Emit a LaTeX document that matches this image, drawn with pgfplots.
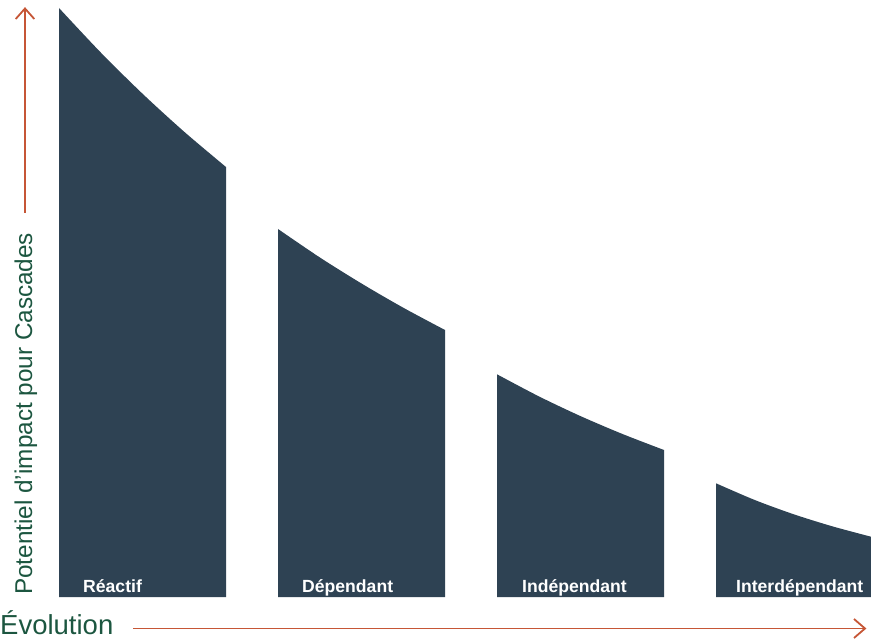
\documentclass[border=0pt]{standalone}
\usepackage{pgfplots}
\pgfplotsset{compat=1.18}
\usepackage{fontspec}
\setmainfont{Liberation Sans}
\definecolor{darkfill}{RGB}{46,66,83}
\definecolor{txtgreen}{RGB}{28,86,64}
\definecolor{arrowc}{RGB}{198,86,54}
\begin{document}
\begin{tikzpicture}
\begin{axis}[
  width=871pt, height=641pt, scale only axis,
  xmin=0, xmax=871, ymin=-44, ymax=597,
  hide axis, clip=false,
]
\path (0,-44) rectangle (871,597);
% Réactif
\addplot[fill=darkfill, draw=none, smooth] coordinates {
 (59,589) (100.75,544.5) (142.5,503.3) (184.25,465.2) (226,430)} \closedcycle;
% Dépendant
\addplot[fill=darkfill, draw=none, smooth] coordinates {
 (278,368) (319.75,339.6) (361.5,313.5) (403.25,289.3) (445,267)} \closedcycle;
% Indépendant
\addplot[fill=darkfill, draw=none, smooth] coordinates {
 (497,222.7) (538.75,200.7) (580.5,180.9) (622.25,163.1) (664,147)} \closedcycle;
% Interdépendant
\addplot[fill=darkfill, draw=none, smooth] coordinates {
 (716,113.7) (754.75,97.0) (793.5,82.8) (832.25,70.7) (871,60.3)} \closedcycle;

\node[anchor=base west, inner sep=0, text=white, font=\fontsize{17.6}{20}\selectfont\bfseries] at (83,5) {Réactif};
\node[anchor=base west, inner sep=0, text=white, font=\fontsize{17.6}{20}\selectfont\bfseries] at (302,5) {Dépendant};
\node[anchor=base west, inner sep=0, text=white, font=\fontsize{17.6}{20}\selectfont\bfseries] at (522,5) {Indépendant};
\node[anchor=base west, inner sep=0, text=white, font=\fontsize{17.6}{20}\selectfont\bfseries] at (736,5) {Interdépendant};

\node[anchor=base west, inner sep=0, text=txtgreen, font=\fontsize{27.5}{30}\selectfont] at (0,-37) {Évolution};
\node[anchor=base west, inner sep=0, rotate=90, text=txtgreen, font=\fontsize{24.3}{28}\selectfont] at (32,2) {Potentiel d’impact pour Cascades};

\draw[arrowc, line width=1.8pt] (25,384) -- (25,588);
\draw[arrowc, line width=1.8pt, line join=miter] (15.7,578) -- (25,588.5) -- (34.3,578);
\draw[arrowc, line width=1.8pt] (133,-31.5) -- (865,-31.5);
\draw[arrowc, line width=1.8pt, line join=miter] (854,-22) -- (865,-31.5) -- (854,-41);
\end{axis}
\end{tikzpicture}
\end{document}
